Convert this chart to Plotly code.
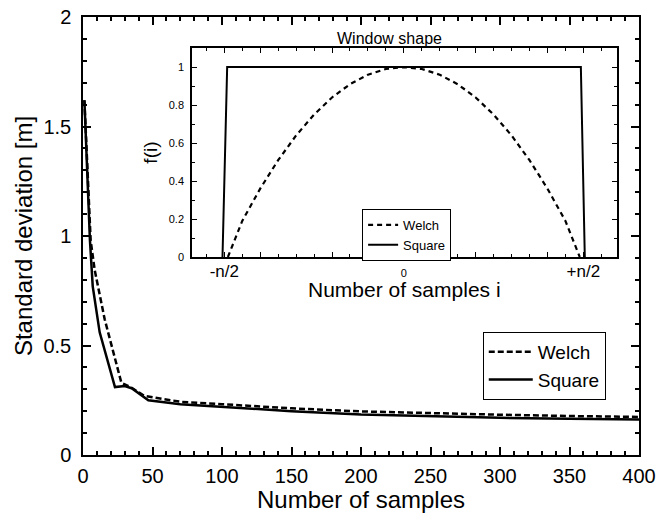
import plotly.graph_objects as go

# ---- main chart data ----
square_n = [1, 5, 7, 12, 23, 30, 35, 47, 70, 100, 150, 200, 250, 300, 350, 400]
square_sd = [1.62, 0.98, 0.77, 0.56, 0.31, 0.315, 0.305, 0.25, 0.232, 0.22, 0.2, 0.185, 0.176, 0.17, 0.165, 0.162]
welch_n = [1, 5.5, 8.4, 15.6, 27.6, 35, 44, 70, 100, 150, 200, 250, 300, 350, 400]
welch_sd = [1.62, 0.98, 0.845, 0.62, 0.33, 0.307, 0.27, 0.243, 0.232, 0.213, 0.199, 0.19, 0.184, 0.178, 0.174]

# ---- inset (window shape) data ----
welch_i = [-0.49, -0.45, -0.4, -0.35, -0.3, -0.25, -0.2, -0.15, -0.1, -0.05, 0.0,
           0.05, 0.1, 0.15, 0.2, 0.25, 0.3, 0.35, 0.4, 0.45, 0.49]
welch_f = [0.0, 0.19, 0.36, 0.51, 0.64, 0.75, 0.84, 0.91, 0.96, 0.99, 1.0,
           0.99, 0.96, 0.91, 0.84, 0.75, 0.64, 0.51, 0.36, 0.19, 0.0]
square_i = [-0.505, -0.492, 0.493, 0.504]
square_f = [0.0, 1.0, 1.0, 0.0]

inset_tickvals = [-0.5, -0.4, -0.2, 0.0, 0.2, 0.4, 0.5]
inset_ticktext = ["-n/2", "", "", '<span style="font-size:11px">0</span>', "", "", "+n/2"]

FONT = "Liberation Sans, Arial, Helvetica, sans-serif"

fig = go.Figure()

fig.add_trace(go.Scatter(x=welch_n, y=welch_sd, mode="lines", name="Welch",
                         line=dict(color="black", width=2.5, dash="6px,3px"),
                         xaxis="x", yaxis="y", legend="legend"))
fig.add_trace(go.Scatter(x=square_n, y=square_sd, mode="lines", name="Square",
                         line=dict(color="black", width=2.5),
                         xaxis="x", yaxis="y", legend="legend"))

fig.add_trace(go.Scatter(x=welch_i, y=welch_f, mode="lines", name="Welch",
                         line=dict(color="black", width=2.2, dash="5px,4px"),
                         xaxis="x2", yaxis="y2", legend="legend2"))
fig.add_trace(go.Scatter(x=square_i, y=square_f, mode="lines", name="Square",
                         line=dict(color="black", width=2),
                         xaxis="x2", yaxis="y2", legend="legend2"))

axis_common = dict(showgrid=False, zeroline=False, showline=True, linecolor="black",
                   linewidth=1.5, mirror="allticks", ticks="inside", tickcolor="black",
                   automargin=False)

fig.update_layout(
    width=669, height=513,
    margin=dict(l=83, r=30, t=17, b=58),
    paper_bgcolor="white", plot_bgcolor="white",
    font=dict(family=FONT, color="black"),
    showlegend=True,
    xaxis=dict(**axis_common, range=[0, 400], dtick=50, ticklen=8, tickwidth=1.5,
               minor=dict(dtick=10, ticklen=4, ticks="inside", tickcolor="black"),
               tickfont=dict(size=20), ticklabelstandoff=2,
               title=dict(text="Number of samples", font=dict(size=24), standoff=2)),
    yaxis=dict(**axis_common, range=[0, 2], dtick=0.5, ticklen=8, tickwidth=1.5,
               minor=dict(dtick=0.1, ticklen=4, ticks="inside", tickcolor="black"),
               tickfont=dict(size=20), ticklabelstandoff=6,
               title=dict(text="Standard deviation [m]", font=dict(size=24), standoff=4)),
    xaxis2=dict(**axis_common, domain=[0.196, 0.960], anchor="y2", range=[-0.59, 0.593],
                tickmode="array", tickvals=inset_tickvals, ticktext=inset_ticktext,
                ticklen=5, tickwidth=1,
                minor=dict(tickmode="array",
                           tickvals=[-0.55, -0.45, -0.35, -0.3, -0.25, -0.15, -0.1, -0.05,
                                     0.05, 0.1, 0.15, 0.25, 0.3, 0.35, 0.45, 0.55],
                           ticklen=3, ticks="inside", tickcolor="black"),
                tickfont=dict(size=17), ticklabelstandoff=-2),
    yaxis2=dict(**axis_common, domain=[0.452, 0.929], anchor="x2", range=[0, 1.1],
                tickmode="array", tickvals=[0, 0.2, 0.4, 0.6, 0.8, 1.0],
                ticktext=["0", "0.2", "0.4", "0.6", "0.8", "1"],
                ticklen=5, tickwidth=1,
                minor=dict(dtick=0.1, ticklen=3, ticks="inside", tickcolor="black"),
                tickfont=dict(size=11), ticklabelstandoff=4,
                title=dict(text="f(i)", font=dict(size=19), standoff=6)),
    legend=dict(x=0.719, y=0.281, xanchor="left", yanchor="top",
                bgcolor="white", bordercolor="black", borderwidth=1,
                font=dict(size=19, family=FONT), tracegroupgap=0, itemwidth=44),
    legend2=dict(x=0.502, y=0.562, xanchor="left", yanchor="top",
                 bgcolor="white", bordercolor="black", borderwidth=1,
                 font=dict(size=13, family=FONT), tracegroupgap=0, itemwidth=30),
    annotations=[
        dict(text="Window shape", x=(389 - 83) / 556, xref="paper",
             y=1.0, yref="paper", xanchor="center", yanchor="middle",
             yshift=-21, showarrow=False, font=dict(size=16, family=FONT)),
        dict(text="Number of samples i", x=(404 - 83) / 556, xref="paper",
             y=(455 - 289) / 438, yref="paper", xanchor="center", yanchor="middle",
             showarrow=False, font=dict(size=21, family=FONT)),
    ],
)

fig.write_html("out.html")
